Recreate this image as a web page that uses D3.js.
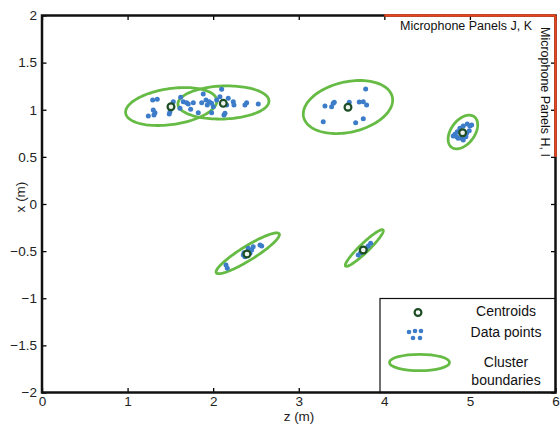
<!DOCTYPE html>
<html><head><meta charset="utf-8">
<script src="https://cdn.jsdelivr.net/npm/d3@7/dist/d3.min.js"></script>
<style>body{margin:0;background:#fff}svg{display:block}text{font-family:"Liberation Sans",Arial,sans-serif}</style>
</head><body>
<svg id="c" width="560" height="429"></svg>
<script>
const xTicks = [0,1,2,3,4,5,6];
const yTicks = [-2,-1.5,-1,-0.5,0,0.5,1,1.5,2];
const yTickLabels = ["\u22122","\u22121.5","\u22121","\u22120.5","0","0.5","1","1.5","2"];
// data points [z, x]
const cluster1 = [[1.293,1.103],[1.347,1.111],[1.300,0.997],[1.320,0.969],[1.242,0.934],[1.308,0.944],[1.495,0.979],[1.487,0.955],[1.515,1.050],[1.534,1.085],[1.620,1.132],[1.651,1.085],[1.690,1.075],[1.709,1.061],[1.768,1.075],[1.737,1.005],[1.826,0.969],[1.612,1.015]];
const cluster2 = [[1.884,1.167],[1.866,1.075],[1.916,1.103],[1.954,1.085],[1.982,1.068],[2.001,1.032],[2.041,1.103],[2.079,1.138],[2.099,1.217],[2.176,1.121],[2.235,1.085],[2.243,1.050],[2.158,1.050],[2.138,0.962],[2.126,0.944],[1.982,0.969],[2.371,1.050],[2.391,1.075],[2.527,1.061],[1.931,1.050]];
const cluster3 = [[3.306,1.040],[3.384,1.032],[3.403,1.068],[3.415,1.079],[3.590,1.079],[3.707,1.082],[3.754,1.085],[3.793,1.050],[3.782,1.220],[3.567,1.015],[3.286,0.873],[3.665,0.862],[3.754,0.905]];
const cluster4 = [[4.825,0.740],[4.805,0.721],[4.852,0.767],[4.883,0.803],[4.922,0.828],[4.969,0.849],[5.000,0.828],[5.020,0.838],[4.953,0.714],[4.903,0.697],[4.863,0.697],[4.845,0.714],[4.961,0.750],[4.992,0.778],[4.922,0.679]];
const cluster5 = [[2.150,-0.647],[2.165,-0.682],[2.360,-0.517],[2.352,-0.541],[2.410,-0.470],[2.450,-0.488],[2.468,-0.453],[2.547,-0.435],[2.567,-0.446],[2.430,-0.523],[2.371,-0.559]];
const cluster6 = [[3.695,-0.541],[3.723,-0.517],[3.754,-0.495],[3.785,-0.470],[3.812,-0.446],[3.840,-0.417]];
const centroids = [[1.507,1.032],[2.118,1.068],[3.575,1.026],[4.915,0.756],[2.395,-0.531],[3.754,-0.488]];
// ellipses: [centre z, centre x, semi-major, semi-minor, angle deg]
const ellipses = [[1.51,1.034,0.537,0.191,7.3],[2.12,1.077,0.532,0.175,1.8],[3.575,1.029,0.529,0.268,10.9],[4.918,0.764,0.210,0.133,47.2],[2.404,-0.523,0.422,0.077,29.2],[3.766,-0.467,0.291,0.05,41]];
const panelTop = [[4,2],[6,2]];
const panelRight = [[6,2],[6,0.5]];

const svg = d3.select("#c");
const L=42,R=555.5,T=15.5,B=392.5;
const xs = d3.scaleLinear().domain([0,6]).range([L,R]);
const ys = d3.scaleLinear().domain([-2,2]).range([B,T]);
const g = svg.append("g");

const line = d3.line().x(d=>xs(d[0])).y(d=>ys(d[1]));
ellipses.forEach(e=>{
  const [cz,cx,a,b,ang]=e; const th=ang*Math.PI/180;
  const pts=d3.range(0,361,3).map(t=>{const r=t*Math.PI/180;
    return [cz+a*Math.cos(th)*Math.cos(r)-b*Math.sin(th)*Math.sin(r), cx+a*Math.sin(th)*Math.cos(r)+b*Math.cos(th)*Math.sin(r)];});
  g.append("path").attr("d",line(pts)+"Z").attr("fill","none").attr("stroke","#66bb45").attr("stroke-width",2.8);
});
const allPts = [].concat(cluster1,cluster2,cluster3,cluster4,cluster5,cluster6);
g.selectAll("circle.pt").data(allPts).join("circle").attr("class","pt")
  .attr("cx",d=>xs(d[0])).attr("cy",d=>ys(d[1])).attr("r",2.5).attr("fill","#3d7cc9");
g.selectAll("circle.cen").data(centroids).join("circle").attr("class","cen")
  .attr("cx",d=>xs(d[0])).attr("cy",d=>ys(d[1])).attr("r",3.4).attr("fill","#eef3ee").attr("stroke","#1d4d25").attr("stroke-width",2.2);

// axes
const axB = d3.axisBottom(xs).tickValues(xTicks).tickSize(-4.5).tickPadding(4).tickFormat(d3.format("d"));
const axT = d3.axisTop(xs).tickValues(xTicks).tickSize(-4.5).tickFormat("");
const axLf = d3.axisLeft(ys).tickValues(yTicks).tickSize(-4.5).tickPadding(5).tickFormat((d,i)=>yTickLabels[i]);
const axRt = d3.axisRight(ys).tickValues(yTicks).tickSize(-4.5).tickFormat("");
function style(sel){sel.select(".domain").remove();sel.selectAll("line").attr("stroke","#000").attr("stroke-width",1.3);sel.selectAll("text").attr("font-size",13.5).attr("fill","#222");}
g.append("g").attr("transform",`translate(0,${B})`).call(axB).call(style);
g.append("g").attr("transform",`translate(0,${T})`).call(axT).call(style);
g.append("g").attr("transform",`translate(${L},0)`).call(axLf).call(style);
g.append("g").attr("transform",`translate(${R},0)`).call(axRt).call(style);

// legend
const lg = g.append("g");
lg.append("rect").attr("x",380).attr("y",298.5).attr("width",R-380).attr("height",B-298.5).attr("fill","#fff").attr("stroke","#111").attr("stroke-width",1.2);
lg.append("circle").attr("cx",418).attr("cy",312.5).attr("r",3.4).attr("fill","#fff").attr("stroke","#1d4d25").attr("stroke-width",2.2);
[[409,332],[415,331],[421,331],[413,338],[420,338]].forEach(p=>lg.append("circle").attr("cx",p[0]).attr("cy",p[1]).attr("r",2.3).attr("fill","#3d7cc9"));
lg.append("ellipse").attr("cx",419.5).attr("cy",362.5).attr("rx",30).attr("ry",8.2).attr("fill","none").attr("stroke","#66bb45").attr("stroke-width",2.8);
const lt=[["Centroids",311],["Data points",332.5],["Cluster",362],["boundaries",380]];
lt.forEach(t=>lg.append("text").attr("x",506).attr("y",t[1]).attr("dy","0.35em").attr("text-anchor","middle").attr("font-size",14).attr("fill","#111").text(t[0]));

g.append("rect").attr("x",L).attr("y",T).attr("width",R-L).attr("height",B-T).attr("fill","none").attr("stroke","#111").attr("stroke-width",2.5);

// panels
g.append("path").attr("d",line(panelTop)).attr("stroke","#e8441e").attr("stroke-width",2.4).attr("fill","none");
g.append("path").attr("d",line(panelRight)).attr("stroke","#e8441e").attr("stroke-width",2.4).attr("fill","none");
g.append("text").attr("x",400).attr("y",29.5).attr("font-size",12.5).attr("fill","#111").text("Microphone Panels J, K");
g.append("text").attr("transform","translate(540.5,27) rotate(90)").attr("font-size",12.5).attr("fill","#111").text("Microphone Panels H, I");

// axis titles
g.append("text").attr("x",299).attr("y",421).attr("text-anchor","middle").attr("font-size",13.5).attr("fill","#222").text("z (m)");
g.append("text").attr("transform","translate(24.5,197) rotate(-90)").attr("text-anchor","middle").attr("font-size",13.5).attr("fill","#222").text("x (m)");
</script>
</body></html>
